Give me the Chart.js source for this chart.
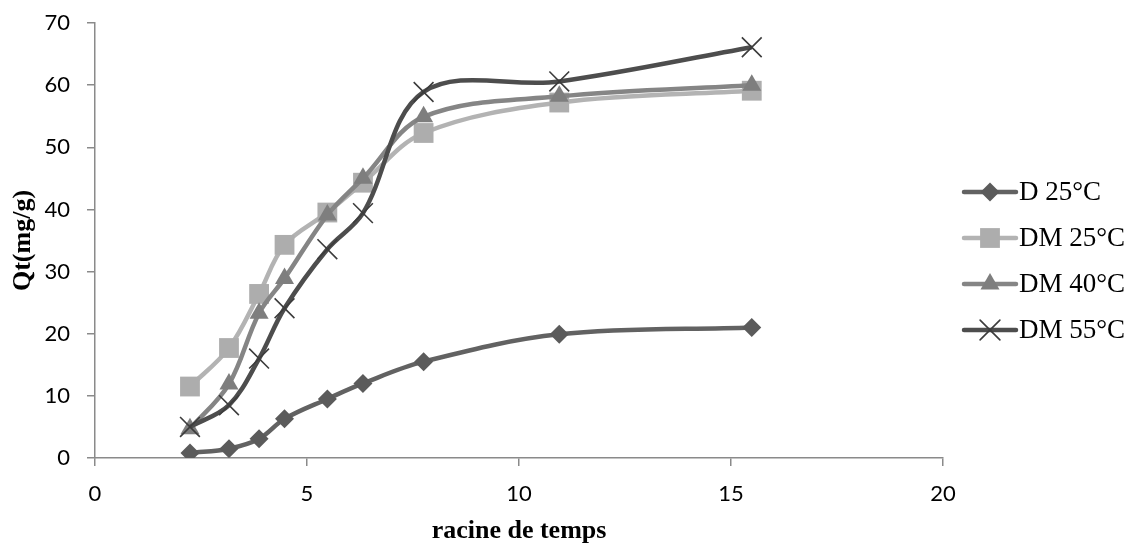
<!DOCTYPE html>
<html>
<head>
<meta charset="utf-8">
<script src="https://cdn.jsdelivr.net/npm/chart.js@4.4.1/dist/chart.umd.min.js"></script>
<style>
  html, body { margin: 0; padding: 0; background: #fff; }
  #wrap { width: 1134px; height: 547px; }
</style>
</head>
<body>
<div id="wrap"><canvas id="qtChart" width="1134" height="547"></canvas></div>
<script>
// racine de temps (x) et Qt (mg/g) par série
const racineTemps = [2.24, 3.16, 3.87, 4.47, 5.48, 6.32, 7.75, 10.95, 15.49];
const seriesNames = ["D 25°C", "DM 25°C", "DM 40°C", "DM 55°C"];
const d25   = [0.8, 1.5, 3.1, 6.3, 9.5, 12.0, 15.5, 19.9, 21.0];
const dm25  = [11.5, 17.7, 26.4, 34.3, 39.5, 44.3, 52.3, 57.2, 59.1];
const dm40  = [4.7, 11.9, 23.3, 28.9, 39.1, 45.0, 54.9, 58.2, 60.0];
const dm55  = [5.0, 8.5, 16.0, 24.1, 33.6, 39.4, 58.9, 60.6, 66.1];
const xTicks = [0, 5, 10, 15, 20];
const yTicks = [0, 10, 20, 30, 40, 50, 60, 70];

const toPoints = vals => vals.map((v, i) => ({ x: racineTemps[i], y: v }));

const styles = [
  { line: "#626262", fill: "#5b5b5b", point: "rectRot", r: 9.5, order: 4 },
  { line: "#b3b3b3", fill: "#adadad", point: "rect", r: 14, order: 3 },
  { line: "#858585", fill: "#7e7e7e", point: "triangle", r: 11, order: 2 },
  { line: "#4d4d4d", fill: "#3c3c3c", point: "crossRot", r: 14, order: 1 }
];
const allValues = [d25, dm25, dm40, dm55];

const datasets = allValues.map((vals, i) => {
  const s = styles[i];
  const isCross = s.point === "crossRot";
  return {
    label: seriesNames[i],
    data: toPoints(vals),
    borderColor: s.line,
    borderWidth: 4.5,
    tension: 0.35,
    pointStyle: s.point,
    pointRadius: s.r,
    pointHoverRadius: s.r,
    pointBackgroundColor: s.fill,
    pointBorderColor: s.fill,
    pointBorderWidth: isCross ? 1.6 : 0,
    order: s.order
  };
});

// légende à droite : ligne + marqueur + texte
const sideLegend = {
  id: "sideLegend",
  afterDraw(chart) {
    const ctx = chart.ctx;
    const top = chart.chartArea.top + 169;
    ctx.save();
    chart.data.datasets.forEach((ds, i) => {
      const y = top + i * 46;
      ctx.strokeStyle = ds.borderColor;
      ctx.lineWidth = 4.5;
      ctx.lineCap = "round";
      ctx.beginPath();
      ctx.moveTo(964, y);
      ctx.lineTo(1016, y);
      ctx.stroke();
      ctx.fillStyle = ds.pointBackgroundColor;
      ctx.strokeStyle = ds.pointBorderColor;
      ctx.lineWidth = ds.pointBorderWidth;
      Chart.helpers.drawPoint(ctx, { pointStyle: ds.pointStyle, radius: ds.pointRadius, borderWidth: ds.pointBorderWidth }, 990, y);
      ctx.fillStyle = "#000";
      ctx.font = "27px 'Liberation Serif'";
      ctx.textBaseline = "middle";
      ctx.textAlign = "left";
      ctx.fillText(ds.label, 1019, y + 1);
    });
    ctx.restore();
  }
};

new Chart(document.getElementById("qtChart"), {
  type: "line",
  data: { datasets },
  plugins: [sideLegend],
  options: {
    responsive: false,
    animation: false,
    layout: { padding: { left: 0, right: 191, top: 23, bottom: 0 } },
    plugins: { legend: { display: false }, tooltip: { enabled: false } },
    scales: {
      x: {
        type: "linear",
        min: 0, max: 20,
        afterBuildTicks: s => { s.ticks = xTicks.map(v => ({ value: v })); },
        afterFit: s => { s.height = 89; },
        ticks: { color: "#000", font: { family: "Lato", size: 22 }, padding: 15 },
        grid: { drawOnChartArea: false, drawTicks: true, tickLength: 8, color: "#8a8a8a", lineWidth: 1.5 },
        border: { color: "#8a8a8a", width: 1.5 },
        title: { display: true, text: "racine de temps", color: "#000",
                 font: { family: "Liberation Serif", size: 26, weight: "bold" }, padding: { top: 0, bottom: 0 } }
      },
      y: {
        min: 0, max: 70,
        afterBuildTicks: s => { s.ticks = yTicks.map(v => ({ value: v })); },
        afterFit: s => { s.width = 95; s.paddingTop = 0; s.paddingBottom = 0; },
        ticks: { color: "#000", font: { family: "Lato", size: 22 }, padding: 17 },
        grid: { drawOnChartArea: false, drawTicks: true, tickLength: 8, color: "#8a8a8a", lineWidth: 1.5 },
        border: { color: "#8a8a8a", width: 1.5 },
        title: { display: true, text: "Qt(mg/g)", color: "#000",
                 font: { family: "Liberation Serif", size: 26, weight: "bold" }, padding: { top: 8, bottom: 0 } }
      }
    }
  }
});
</script>
</body>
</html>
